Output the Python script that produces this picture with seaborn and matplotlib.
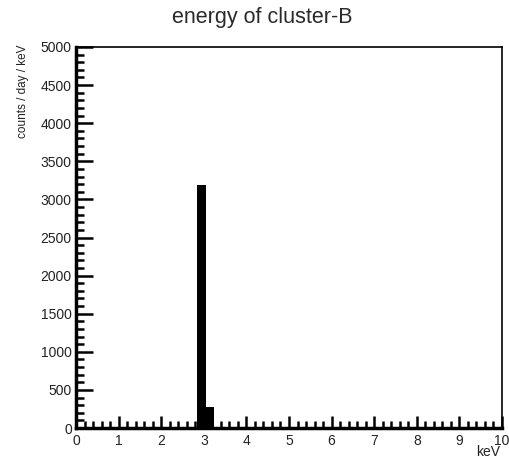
"""energy of cluster-B histogram (ROOT-like style)"""
import numpy as np
import pandas as pd
import matplotlib
matplotlib.use("Agg")
import matplotlib.pyplot as plt
import seaborn as sns
from matplotlib.ticker import MultipleLocator

# 資料
bin_edges = [2.85, 3.05, 3.25]
bin_counts = [3190, 280]
x_range = (0, 10)
y_range = (0, 5000)

sns.set_style("ticks")
plt.rcParams["font.family"] = ["Liberation Sans", "DejaVu Sans"]
TEXT = "#222222"

centers = [(a + b) / 2 for a, b in zip(bin_edges[:-1], bin_edges[1:])]
df = pd.DataFrame({"energy": centers, "counts": bin_counts})

fig = plt.figure(figsize=(5.10, 4.63), dpi=100)
ax = fig.add_axes([76 / 510, 35 / 463, 426 / 510, 381 / 463])

sns.histplot(data=df, x="energy", weights="counts", bins=bin_edges,
             color="black", alpha=1, linewidth=0, ax=ax)

ax.set_xlim(*x_range)
ax.set_ylim(*y_range)

ax.xaxis.set_major_locator(MultipleLocator(1))
ax.xaxis.set_minor_locator(MultipleLocator(0.2))
ax.yaxis.set_major_locator(MultipleLocator(500))
ax.yaxis.set_minor_locator(MultipleLocator(100))

ax.tick_params(axis="x", which="major", direction="in", length=9, width=1.8,
               labelsize=10, pad=4, color="black", labelcolor=TEXT)
ax.tick_params(axis="x", which="minor", direction="in", length=5, width=1.8,
               color="black")
ax.tick_params(axis="y", which="major", direction="in", length=12, width=1.8,
               labelsize=10, pad=3, color="black", labelcolor=TEXT)
ax.tick_params(axis="y", which="minor", direction="in", length=6, width=1.8,
               color="black")

for side in ["left", "bottom"]:
    ax.spines[side].set_linewidth(2.5)
    ax.spines[side].set_color("black")
for side in ["top", "right"]:
    ax.spines[side].set_visible(True)
    ax.spines[side].set_linewidth(1.2)
    ax.spines[side].set_color("black")

ax.set_xlabel("")
ax.set_ylabel("")
fig.text(500 / 510, 1 - 452 / 463, "keV", ha="right", va="center",
         fontsize=10, color=TEXT)
fig.text(23 / 510, 1 - 45 / 463, "counts / day / keV", rotation=90,
         ha="center", va="top", fontsize=8.5, color=TEXT)
fig.text(262 / 510, 1 - 17 / 463, "energy of cluster-B", ha="center",
         va="center", fontsize=15.5, color="#2a2a2a")

fig.savefig("out.png", dpi=100)
plt.close(fig)
